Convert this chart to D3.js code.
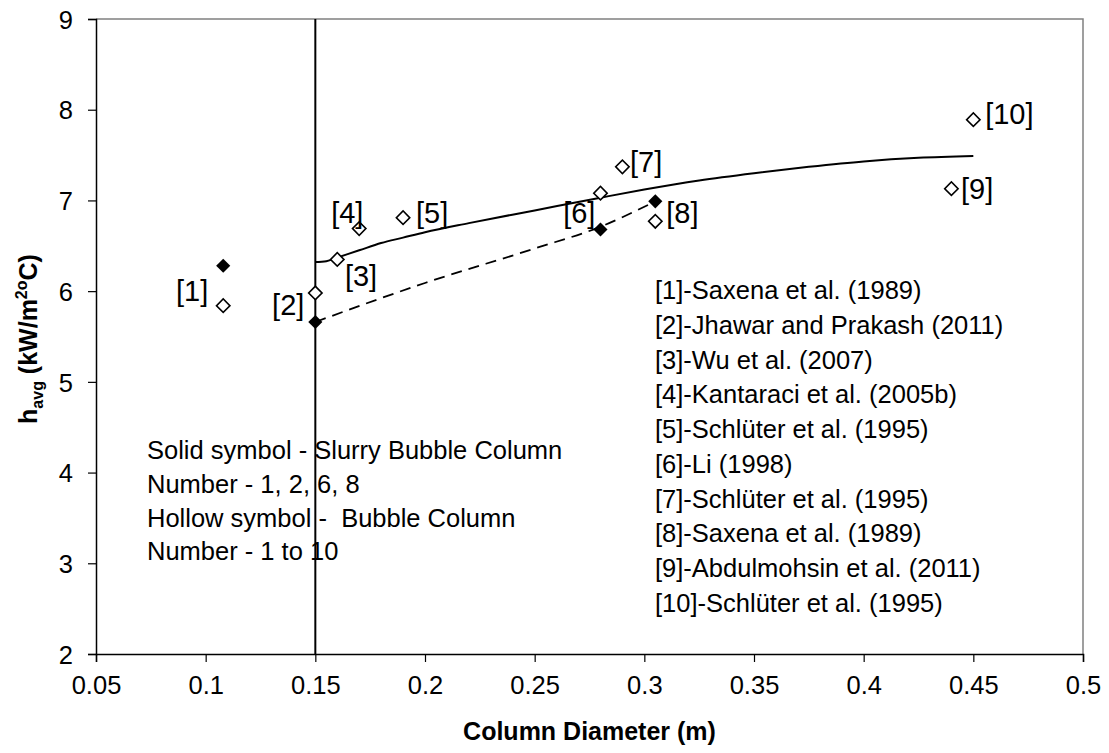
<!DOCTYPE html>
<html>
<head>
<meta charset="utf-8">
<script src="https://cdn.jsdelivr.net/npm/d3@7.9.0/dist/d3.min.js"></script>
<style>
  body { margin: 0; background: #fff; }
  svg { display: block; font-family: "Liberation Sans", Arial, sans-serif; }
</style>
</head>
<body>
<svg id="chart" width="1109" height="753"></svg>
<script>
// tick values
const xTicks = [0.05, 0.1, 0.15, 0.2, 0.25, 0.3, 0.35, 0.4, 0.45, 0.5];
const yTicks = [2, 3, 4, 5, 6, 7, 8, 9];

// solid symbols - slurry bubble column
const slurryD = [0.108, 0.15, 0.28, 0.305];
const slurryH = [6.28, 5.66, 6.68, 6.99];

// hollow symbols - bubble column
const bubbleD = [0.108, 0.15, 0.16, 0.17, 0.19, 0.28, 0.29, 0.305, 0.44, 0.45];
const bubbleH = [5.84, 5.98, 6.35, 6.69, 6.81, 7.08, 7.37, 6.77, 7.13, 7.89];

// correlation curves
const bubbleCurveD = [0.15, 0.155, 0.16, 0.17, 0.18, 0.19, 0.2, 0.22, 0.25, 0.28, 0.3, 0.325, 0.35, 0.375, 0.4, 0.425, 0.45];
const bubbleCurveH = [6.32, 6.33, 6.37, 6.45, 6.53, 6.59, 6.65, 6.75, 6.89, 7.03, 7.12, 7.22, 7.30, 7.37, 7.43, 7.47, 7.49];
const slurryCurveD = [0.15, 0.2, 0.25, 0.28, 0.305];
const slurryCurveH = [5.66, 6.09, 6.47, 6.71, 6.99];

// vertical boundary at 0.15 m
const boundaryD = 0.15;

// point labels
const labelText = ['[1]', '[2]', '[3]', '[4]', '[5]', '[6]', '[7]', '[8]', '[9]', '[10]'];
const labelD = [0.0865, 0.1303, 0.1635, 0.1572, 0.1959, 0.263, 0.2935, 0.310, 0.4444, 0.4554];
const labelH = [5.89, 5.74, 6.06, 6.75, 6.75, 6.75, 7.31, 6.75, 7.02, 7.84];

const references = [
  '[1]-Saxena et al. (1989)',
  '[2]-Jhawar and Prakash (2011)',
  '[3]-Wu et al. (2007)',
  '[4]-Kantaraci et al. (2005b)',
  '[5]-Schlüter et al. (1995)',
  '[6]-Li (1998)',
  '[7]-Schlüter et al. (1995)',
  '[8]-Saxena et al. (1989)',
  '[9]-Abdulmohsin et al. (2011)',
  '[10]-Schlüter et al. (1995)'
];

const notes = [
  'Solid symbol - Slurry Bubble Column',
  'Number - 1, 2, 6, 8',
  'Hollow symbol -  Bubble Column',
  'Number - 1 to 10'
];

const margin = { top: 19, right: 26, bottom: 99, left: 96 };
const width = 1109;
const height = 753;

const svg = d3.select('#chart');
svg.append('rect').attr('width', width).attr('height', height).attr('fill', '#fff');

const x = d3.scaleLinear().domain([0.05, 0.5]).range([margin.left, width - margin.right]);
const y = d3.scaleLinear().domain([2, 9]).range([height - margin.bottom, margin.top]);

// plot frame (top/right in grey)
svg.append('path')
  .attr('d', `M${x(0.05)},${y(9)}H${x(0.5)}V${y(2)}`)
  .attr('fill', 'none')
  .attr('stroke', '#808080')
  .attr('stroke-width', 1.5);

const xAxis = svg.append('g')
  .attr('transform', `translate(0,${y(2)})`)
  .call(d3.axisBottom(x).tickValues(xTicks).tickSize(8).tickPadding(14).tickFormat(d3.format('~g')));

const yAxis = svg.append('g')
  .attr('transform', `translate(${x(0.05)},0)`)
  .call(d3.axisLeft(y).tickValues(yTicks).tickSize(8).tickPadding(15).tickFormat(d3.format('d')));

[xAxis, yAxis].forEach((g) => {
  g.select('.domain').attr('stroke', '#000').attr('stroke-width', 1.5);
  g.selectAll('.tick line').attr('stroke', '#000').attr('stroke-width', 1.2);
  g.selectAll('.tick text').attr('fill', '#000').attr('font-size', 25.5).attr('font-family', '"Liberation Sans", Arial, sans-serif');
});
yAxis.selectAll('.tick text').attr('dy', '0.36em');

// vertical boundary
svg.append('line')
  .attr('x1', x(boundaryD)).attr('x2', x(boundaryD))
  .attr('y1', y(9)).attr('y2', y(2))
  .attr('stroke', '#000')
  .attr('stroke-width', 2);

const line = d3.line().x((d) => x(d[0])).y((d) => y(d[1])).curve(d3.curveMonotoneX);

svg.append('path')
  .attr('d', line(d3.zip(bubbleCurveD, bubbleCurveH)))
  .attr('fill', 'none')
  .attr('stroke', '#000')
  .attr('stroke-width', 2);

svg.append('path')
  .attr('d', line(d3.zip(slurryCurveD, slurryCurveH)))
  .attr('fill', 'none')
  .attr('stroke', '#000')
  .attr('stroke-width', 1.8)
  .attr('stroke-dasharray', '11,7');

const diamond = d3.symbol(d3.symbolSquare, 90);

svg.append('g').selectAll('path')
  .data(d3.zip(bubbleD, bubbleH))
  .join('path')
  .attr('d', diamond)
  .attr('transform', (d) => `translate(${x(d[0])},${y(d[1])}) rotate(45)`)
  .attr('fill', '#fff')
  .attr('stroke', '#000')
  .attr('stroke-width', 1.6);

svg.append('g').selectAll('path')
  .data(d3.zip(slurryD, slurryH))
  .join('path')
  .attr('d', d3.symbol(d3.symbolSquare, 100))
  .attr('transform', (d) => `translate(${x(d[0])},${y(d[1])}) rotate(45)`)
  .attr('fill', '#000');

svg.append('g').selectAll('text')
  .data(labelText)
  .join('text')
  .attr('x', (d, i) => x(labelD[i]))
  .attr('y', (d, i) => y(labelH[i]))
  .attr('font-size', 29)
  .text((d) => d);

svg.append('g').selectAll('text')
  .data(references)
  .join('text')
  .attr('x', 655)
  .attr('y', (d, i) => 299 + i * 34.75)
  .attr('font-size', 25.5)
  .text((d) => d);

svg.append('g').selectAll('text')
  .data(notes)
  .join('text')
  .attr('x', 147)
  .attr('y', (d, i) => 459 + i * 33.8)
  .attr('font-size', 25.5)
  .style('white-space', 'pre')
  .text((d) => d);

svg.append('text')
  .attr('x', (x(0.05) + x(0.5)) / 2)
  .attr('y', 740)
  .attr('text-anchor', 'middle')
  .attr('font-size', 25)
  .attr('font-weight', 'bold')
  .text('Column Diameter (m)');

const yTitle = svg.append('text')
  .attr('transform', 'translate(37,339) rotate(-90)')
  .attr('text-anchor', 'middle')
  .attr('font-size', 25)
  .attr('font-weight', 'bold');
yTitle.append('tspan').text('h');
yTitle.append('tspan').attr('font-size', 16).attr('dy', 6).text('avg');
yTitle.append('tspan').attr('dy', -6).text(' (kW/m');
yTitle.append('tspan').attr('font-size', 16).attr('dy', -10).text('2o');
yTitle.append('tspan').attr('dy', 10).text('C)');
</script>
</body>
</html>
